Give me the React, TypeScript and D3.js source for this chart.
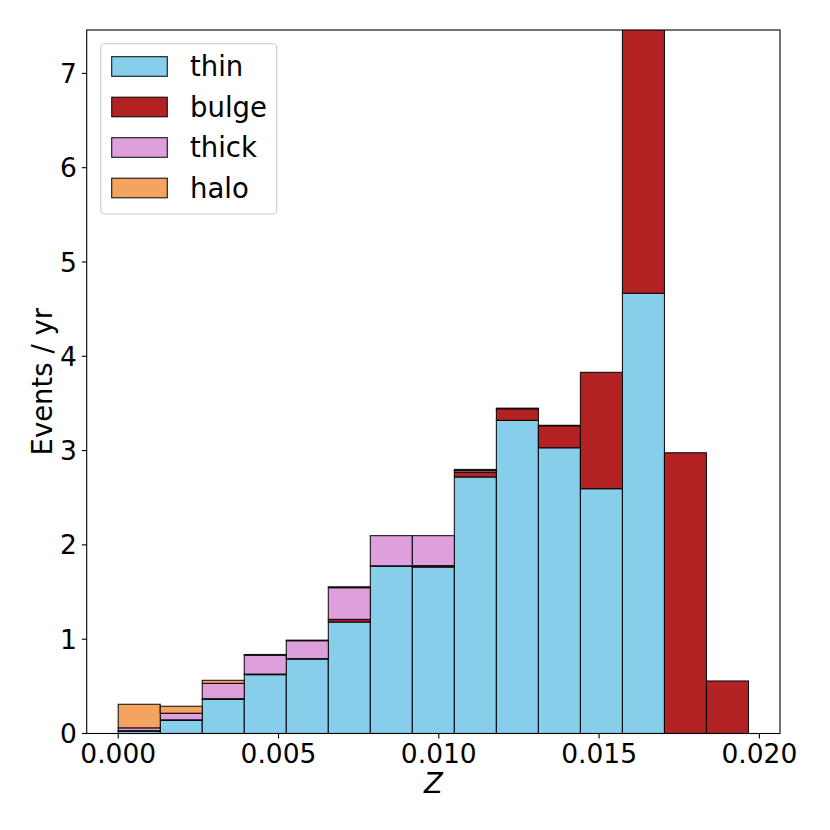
import * as d3 from 'd3'

// histogram bins in Z
const zMin = 0
const zMax = 0.01966
const nBins = 15

const seriesNames = ['thin', 'bulge', 'thick', 'halo']
const seriesColors = ['#87ceeb', '#b22222', '#dda0dd', '#f4a460']

// events / yr per bin, one array per population
const thin = [0.025, 0.14, 0.363, 0.624, 0.79, 1.182, 1.775, 1.765, 2.72, 3.32, 3.03, 2.596, 4.668, 0, 0]
const bulge = [0.005, 0.005, 0.006, 0.006, 0.004, 0.028, 0.003, 0.015, 0.053, 0.124, 0.234, 1.234, 2.8, 2.977, 0.557]
const thick = [0.03, 0.07, 0.163, 0.2, 0.19, 0.336, 0.32, 0.318, 0.018, 0.006, 0.004, 0, 0, 0, 0]
const halo = [0.25, 0.074, 0.032, 0.008, 0.006, 0.01, 0, 0, 0.009, 0, 0, 0, 0, 0, 0]

const xTicks = [0, 0.005, 0.01, 0.015, 0.02]
const yTicks = [0, 1, 2, 3, 4, 5, 6, 7]

const W = 830
const H = 830
const plot = { left: 86.7, right: 780, top: 30, bottom: 733.5 }

const App = () => {
  const pad = (zMax - zMin) * 0.05
  const x = d3.scaleLinear().domain([zMin - pad, zMax + pad]).range([plot.left, plot.right])
  const y = d3.scaleLinear().domain([0, 7.46]).range([plot.bottom, plot.top])
  const binW = (zMax - zMin) / nBins

  const rows = d3.range(nBins).map(i => ({
    i,
    thin: thin[i],
    bulge: bulge[i],
    thick: thick[i],
    halo: halo[i],
  }))
  const stacked = d3.stack<any>().keys(seriesNames)(rows)

  const font = "'DejaVu Sans', sans-serif"

  return (
    <div style={{ position: 'absolute', left: 0, top: 0, background: '#fff' }}>
      <svg width={W} height={H} viewBox={`0 0 ${W} ${H}`} style={{ display: 'block' }}>
        <defs>
          <clipPath id='plot-clip'>
            <rect x={plot.left} y={plot.top} width={plot.right - plot.left} height={plot.bottom - plot.top} />
          </clipPath>
        </defs>
        <rect x={0} y={0} width={W} height={H} fill='#fff' />

        <g clipPath='url(#plot-clip)'>
          {stacked.map((layer, si) => (
            <g key={seriesNames[si]} fill={seriesColors[si]} stroke='#000' strokeWidth={1.1}>
              {layer.map((d, bi) => {
                if (d[1] - d[0] <= 0) return null
                const x0 = x(zMin + bi * binW)
                const x1 = x(zMin + (bi + 1) * binW)
                return (
                  <rect
                    key={bi}
                    x={x0}
                    y={y(d[1])}
                    width={x1 - x0}
                    height={y(d[0]) - y(d[1])}
                    strokeOpacity={0.9}
                  />
                )
              })}
            </g>
          ))}
        </g>

        {/* frame */}
        <rect
          x={plot.left}
          y={plot.top}
          width={plot.right - plot.left}
          height={plot.bottom - plot.top}
          fill='none'
          stroke='#000'
          strokeWidth={1.1}
        />

        {/* x axis */}
        <g fontFamily={font} fontSize={26.5} fill='#000'>
          {xTicks.map(t => (
            <g key={t} transform={`translate(${x(t)},${plot.bottom})`}>
              <line y1={0} y2={4.9} stroke='#000' strokeWidth={1.1} />
              <text y={29.2} textAnchor='middle'>{d3.format('.3f')(t)}</text>
            </g>
          ))}
        </g>
        <text
          x={(plot.left + plot.right) / 2}
          y={793.3}
          textAnchor='middle'
          fontFamily={font}
          fontSize={27.5}
          fontStyle='italic'
        >
          Z
        </text>

        {/* y axis */}
        <g fontFamily={font} fontSize={26.5} fill='#000'>
          {yTicks.map(t => (
            <g key={t} transform={`translate(${plot.left},${y(t)})`}>
              <line x1={0} x2={-4.9} stroke='#000' strokeWidth={1.1} />
              <text x={-9.8} dy='0.36em' textAnchor='end'>{t}</text>
            </g>
          ))}
        </g>
        <text
          transform={`translate(51.7,${(plot.top + plot.bottom) / 2}) rotate(-90)`}
          textAnchor='middle'
          fontFamily={font}
          fontSize={27.5}
        >
          Events / yr
        </text>

        {/* legend */}
        <g>
          <rect x={100.7} y={43.7} width={176} height={170.3} rx={4} fill='#fff' fillOpacity={0.8} stroke='#ccc' strokeWidth={1.1} />
          {seriesNames.map((name, i) => (
            <g key={name} transform={`translate(0,${66.5 + i * 40.5})`}>
              <rect x={111.7} y={-9.8} width={55.6} height={19.6} fill={seriesColors[i]} stroke='#000' strokeWidth={1.1} strokeOpacity={0.9} />
              <text x={190} dy='0.36em' fontFamily={font} fontSize={27.5}>{name}</text>
            </g>
          ))}
        </g>
      </svg>
    </div>
  )
}

export default App
